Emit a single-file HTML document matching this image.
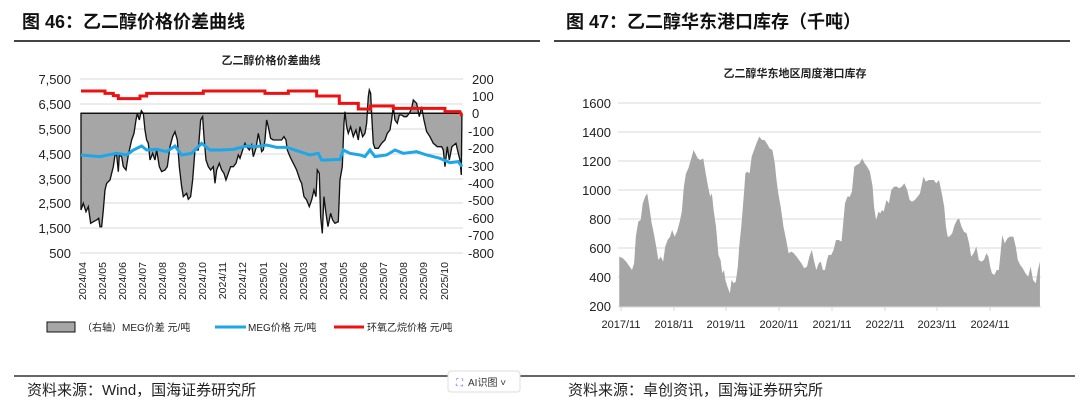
<!DOCTYPE html>
<html><head><meta charset="utf-8"><style>
body{margin:0;width:1080px;height:417px;background:#fff;overflow:hidden;font-family:"Liberation Sans","Noto Sans CJK SC",sans-serif}
svg{position:absolute;left:0;top:0}
</style></head><body>
<svg width="1080" height="417" viewBox="0 0 1080 417" font-family="Liberation Sans, Noto Sans CJK SC, sans-serif">
<text x="22" y="28" font-size="18" font-weight="bold" fill="#111">图 46：乙二醇价格价差曲线</text>
<text x="566" y="28" font-size="18" font-weight="bold" fill="#111">图 47：乙二醇华东港口库存（千吨）</text>
<line x1="14" y1="41" x2="540" y2="41" stroke="#444" stroke-width="2"/>
<line x1="554" y1="41" x2="1070" y2="41" stroke="#444" stroke-width="2"/>
<line x1="14" y1="376" x2="1075" y2="376" stroke="#333" stroke-width="1.5"/>
<text x="27" y="395" font-size="15" fill="#222">资料来源：Wind，国海证券研究所</text>
<text x="568" y="395" font-size="15" fill="#222">资料来源：卓创资讯，国海证券研究所</text>
<rect x="448" y="371" width="72" height="21" rx="3" fill="#fff" stroke="#ddd"/>
<text x="456" y="386" font-size="10" fill="#8a5cf5">⛶</text>
<text x="468" y="386" font-size="10" fill="#333">AI识图 ˅</text>

<!-- Left chart -->
<text x="271" y="64" font-size="11" font-weight="bold" text-anchor="middle" fill="#222">乙二醇价格价差曲线</text>
<g stroke="#d9d9d9" stroke-width="1">
<line x1="80" y1="79" x2="463" y2="79"/><line x1="80" y1="104" x2="463" y2="104"/><line x1="80" y1="129" x2="463" y2="129"/><line x1="80" y1="154" x2="463" y2="154"/><line x1="80" y1="179" x2="463" y2="179"/><line x1="80" y1="203" x2="463" y2="203"/><line x1="80" y1="228" x2="463" y2="228"/><line x1="80" y1="253" x2="463" y2="253"/>
</g>
<g font-size="13" fill="#222" text-anchor="end">
<text x="71" y="84">7,500</text><text x="71" y="109">6,500</text><text x="71" y="134">5,500</text><text x="71" y="159">4,500</text><text x="71" y="184">3,500</text><text x="71" y="208">2,500</text><text x="71" y="233">1,500</text><text x="71" y="258">500</text>
</g>
<g font-size="13" fill="#222">
<text x="472" y="84">200</text><text x="472" y="101">100</text><text x="472" y="118">0</text><text x="468" y="136">-100</text><text x="468" y="153">-200</text><text x="468" y="171">-300</text><text x="468" y="188">-400</text><text x="468" y="205">-500</text><text x="468" y="223">-600</text><text x="468" y="240">-700</text><text x="468" y="258">-800</text>
</g>
<g transform="translate(0,40) scale(0.3333)">
<polygon fill="#a6a6a6" stroke="#111" stroke-width="4" points="243,220 243,510 250,490 258,515 265,500 272,550 280,545 290,540 296,535 300,560 305,560 310,510 315,450 320,430 330,420 335,400 340,380 345,345 350,345 355,395 358,345 365,350 370,380 378,390 385,345 395,300 402,280 408,240 412,220 418,240 424,212 430,220 435,270 440,300 445,310 450,360 458,340 465,360 470,330 478,380 485,395 495,390 502,380 510,320 518,290 525,275 532,300 538,380 545,440 550,470 560,460 565,478 572,470 578,420 585,330 595,330 602,240 608,230 612,290 618,360 625,380 632,390 640,380 645,430 650,390 658,370 665,390 672,400 678,420 685,400 692,380 700,380 708,370 715,345 720,355 728,330 735,310 740,320 748,330 755,315 760,350 768,325 775,280 780,305 785,335 790,330 795,300 800,240 805,260 812,295 820,300 830,300 845,300 852,290 858,300 862,330 870,350 880,370 890,390 900,420 905,430 912,470 920,480 928,500 935,480 942,450 948,470 952,390 958,400 962,530 967,580 972,470 978,520 984,560 992,520 998,540 1005,550 1015,545 1020,420 1027,380 1032,250 1035,215 1040,260 1045,280 1052,260 1060,290 1068,270 1075,300 1080,260 1088,290 1095,280 1100,250 1105,170 1108,150 1112,160 1116,240 1120,310 1125,325 1135,325 1145,310 1155,300 1162,280 1170,270 1175,240 1180,200 1185,240 1192,250 1198,225 1205,225 1212,230 1220,230 1228,220 1235,205 1240,180 1250,190 1258,230 1265,200 1272,240 1280,275 1290,290 1300,310 1312,320 1325,320 1330,330 1335,380 1342,320 1348,360 1356,320 1368,310 1375,340 1380,360 1384,405 1386,220"/>
<line x1="243" y1="220" x2="1386" y2="220" stroke="#111" stroke-width="4"/>
<polyline fill="none" stroke="#1ea7e8" stroke-width="9" points="243,345 300,350 350,340 380,345 400,330 425,318 440,330 470,328 500,335 525,318 545,345 575,340 605,310 630,330 660,330 700,328 740,318 770,320 800,315 830,322 860,322 900,335 930,345 955,340 965,360 980,360 1020,358 1030,330 1050,340 1080,345 1095,350 1110,330 1125,350 1160,345 1185,330 1210,340 1250,335 1280,345 1320,355 1350,368 1375,365 1386,380"/>
<polyline fill="none" stroke="#ee1111" stroke-width="9" points="243,153 315,153 315,160 340,160 340,167 355,167 355,176 420,176 420,168 440,168 440,160 610,160 610,153 795,153 795,160 865,160 865,153 950,153 950,168 1018,168 1018,190 1075,190 1075,207 1112,207 1112,198 1180,198 1180,205 1335,205 1335,215 1380,215 1386,228"/>
</g>
<line x1="80" y1="253" x2="463" y2="253" stroke="#d9d9d9"/>
<g font-size="10.5" fill="#222" text-anchor="end">
<text transform="translate(86,262) rotate(-90)">2024/04</text>
<text transform="translate(106,262) rotate(-90)">2024/05</text>
<text transform="translate(126,262) rotate(-90)">2024/06</text>
<text transform="translate(146,262) rotate(-90)">2024/07</text>
<text transform="translate(166,262) rotate(-90)">2024/08</text>
<text transform="translate(186,262) rotate(-90)">2024/09</text>
<text transform="translate(206,262) rotate(-90)">2024/10</text>
<text transform="translate(226,262) rotate(-90)">2024/11</text>
<text transform="translate(246,262) rotate(-90)">2024/12</text>
<text transform="translate(267,262) rotate(-90)">2025/01</text>
<text transform="translate(287,262) rotate(-90)">2025/02</text>
<text transform="translate(307,262) rotate(-90)">2025/03</text>
<text transform="translate(327,262) rotate(-90)">2025/04</text>
<text transform="translate(347,262) rotate(-90)">2025/05</text>
<text transform="translate(367,262) rotate(-90)">2025/06</text>
<text transform="translate(387,262) rotate(-90)">2025/07</text>
<text transform="translate(407,262) rotate(-90)">2025/08</text>
<text transform="translate(427,262) rotate(-90)">2025/09</text>
<text transform="translate(448,262) rotate(-90)">2025/10</text>
</g>
<rect x="47" y="322" width="28" height="10" fill="#a6a6a6" stroke="#111"/>
<text x="82" y="331" font-size="10" fill="#222">（右轴）MEG价差  元/吨</text>
<line x1="215" y1="327" x2="246" y2="327" stroke="#1ea7e8" stroke-width="3"/>
<text x="248" y="331" font-size="10" fill="#222">MEG价格  元/吨</text>
<line x1="334" y1="327" x2="364" y2="327" stroke="#ee1111" stroke-width="3"/>
<text x="367" y="331" font-size="10" fill="#222">环氧乙烷价格  元/吨</text>

<!-- Right chart -->
<text x="795" y="77" font-size="11" font-weight="bold" text-anchor="middle" fill="#222">乙二醇华东地区周度港口库存</text>
<g stroke="#d9d9d9">
<line x1="618" y1="103" x2="1041" y2="103"/><line x1="618" y1="132" x2="1041" y2="132"/><line x1="618" y1="161" x2="1041" y2="161"/><line x1="618" y1="190" x2="1041" y2="190"/><line x1="618" y1="219" x2="1041" y2="219"/><line x1="618" y1="248" x2="1041" y2="248"/><line x1="618" y1="277" x2="1041" y2="277"/>
</g>
<g transform="translate(538,40) scale(0.3457,0.3333)">
<polygon fill="#a6a6a6" points="235,650 245,655 255,665 265,680 272,690 278,670 283,590 290,545 297,540 303,490 310,470 316,460 322,500 328,545 335,580 342,620 348,660 355,650 362,665 368,620 375,600 382,590 388,570 395,590 402,575 410,545 416,515 422,440 428,400 435,385 442,360 450,330 455,340 462,355 470,360 478,355 485,400 492,440 498,470 503,460 508,510 515,560 522,645 528,660 533,700 538,690 542,720 548,740 555,760 560,720 566,730 572,725 578,680 582,620 588,560 595,470 600,400 605,395 612,400 618,350 625,330 632,310 640,290 648,300 655,300 662,310 670,325 678,330 685,370 690,420 695,460 702,500 710,560 718,600 725,640 733,635 740,640 748,650 755,660 762,670 770,685 778,680 785,650 792,630 798,660 805,690 812,670 818,665 824,690 830,690 836,660 840,645 848,645 855,630 862,600 870,600 878,605 882,560 888,490 895,470 902,470 908,455 915,380 922,375 930,370 938,355 945,370 952,380 960,395 968,440 972,500 978,540 985,515 990,520 995,510 1000,515 1008,480 1015,490 1022,450 1030,440 1038,440 1045,445 1052,440 1060,430 1068,450 1075,480 1082,485 1090,480 1098,470 1105,460 1110,435 1115,410 1122,425 1130,420 1138,420 1145,420 1152,430 1160,420 1168,460 1175,500 1180,560 1185,590 1190,590 1198,580 1205,555 1212,540 1218,535 1225,560 1232,575 1240,580 1247,610 1253,650 1260,640 1268,620 1275,660 1282,665 1290,660 1297,640 1303,650 1308,680 1313,700 1320,705 1327,690 1333,690 1338,640 1343,585 1350,610 1358,595 1365,590 1375,590 1382,620 1388,660 1395,675 1402,685 1410,700 1418,710 1425,680 1432,720 1440,730 1446,690 1452,665 1452,800 235,800"/>
</g>
<line x1="618" y1="307" x2="1041" y2="307" stroke="#d9d9d9"/>
<g stroke="#d9d9d9"><line x1="621" y1="307" x2="621" y2="311"/><line x1="674" y1="307" x2="674" y2="311"/><line x1="726" y1="307" x2="726" y2="311"/><line x1="779" y1="307" x2="779" y2="311"/><line x1="832" y1="307" x2="832" y2="311"/><line x1="885" y1="307" x2="885" y2="311"/><line x1="937" y1="307" x2="937" y2="311"/><line x1="990" y1="307" x2="990" y2="311"/></g>
<g font-size="13" fill="#222" text-anchor="end">
<text x="611" y="108">1600</text><text x="611" y="137">1400</text><text x="611" y="166">1200</text><text x="611" y="195">1000</text><text x="611" y="224">800</text><text x="611" y="253">600</text><text x="611" y="282">400</text><text x="611" y="311">200</text>
</g>
<g font-size="11" fill="#222" text-anchor="middle">
<text x="621" y="328">2017/11</text><text x="674" y="328">2018/11</text><text x="726" y="328">2019/11</text><text x="779" y="328">2020/11</text><text x="832" y="328">2021/11</text><text x="885" y="328">2022/11</text><text x="937" y="328">2023/11</text><text x="990" y="328">2024/11</text>
</g>
</svg>
</body></html>
